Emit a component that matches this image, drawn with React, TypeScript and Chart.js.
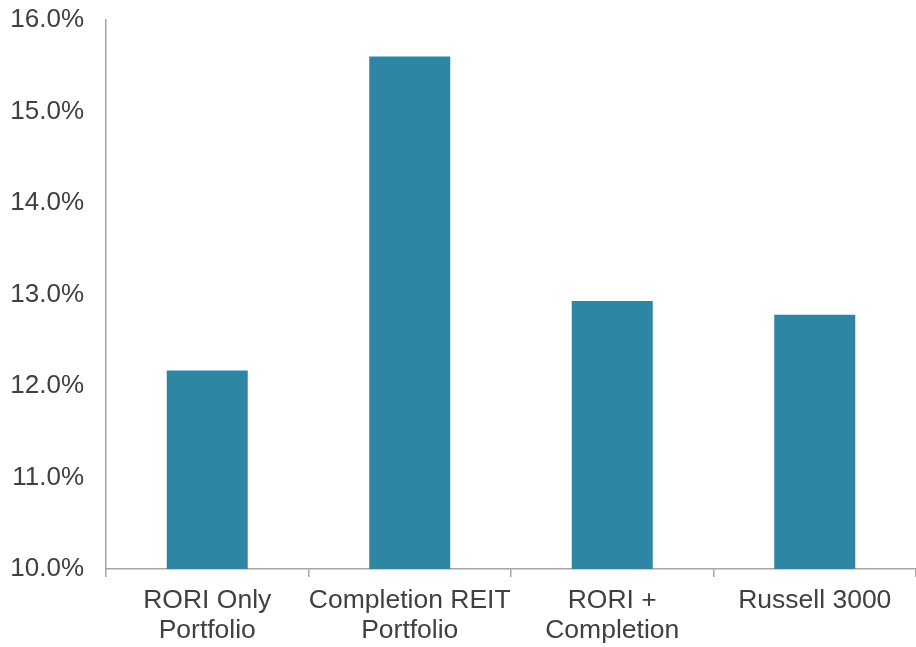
import React, { useEffect, useRef } from "react";
import { Chart, registerables } from "chart.js";

Chart.register(...registerables);

const categories: (string | string[])[] = [
  ["RORI Only", "Portfolio"],
  ["Completion REIT", "Portfolio"],
  ["RORI +", "Completion"],
  "Russell 3000",
];
const values: number[] = [12.17, 15.6, 12.93, 12.78];
const yMin = 10;
const yMax = 16;
const yStep = 1;

const TEXT = "#404040";
const AXIS = "#A6A6A6";
const BAR = "#2E86A3";
const FONT = "'Liberation Sans', Arial, sans-serif";

export default function App() {
  const ref = useRef<HTMLCanvasElement | null>(null);
  useEffect(() => {
    document.body.style.margin = "0";
    const ctx = ref.current!.getContext("2d")!;
    const chart = new Chart(ctx, {
      type: "bar",
      data: {
        labels: categories,
        datasets: [
          {
            data: values,
            backgroundColor: BAR,
            borderWidth: 0,
            barPercentage: 0.4,
            categoryPercentage: 1,
          },
        ],
      },
      options: {
        animation: false,
        responsive: false,
        maintainAspectRatio: false,
        layout: { padding: { top: 20, right: 0, left: 0, bottom: 0 } },
        plugins: { legend: { display: false }, tooltip: { enabled: false } },
        scales: {
          x: {
            grid: {
              display: true,
              drawOnChartArea: false,
              drawTicks: true,
              tickLength: 8,
              color: AXIS,
              lineWidth: 1.5,
              offset: true,
            },
            border: { display: true, color: AXIS, width: 1.5 },
            ticks: {
              color: TEXT,
              font: { family: FONT, size: 26.5, lineHeight: 1.13 },
              padding: 9,
              maxRotation: 0,
              autoSkip: false,
            },
            afterFit: (axis: any) => {
              axis.height = 78;
              axis.paddingLeft = 0;
              axis.paddingRight = 0;
            },
          },
          y: {
            min: yMin,
            max: yMax,
            grid: { display: false, drawTicks: false },
            border: { display: true, color: AXIS, width: 1.5 },
            ticks: {
              stepSize: yStep,
              color: TEXT,
              font: { family: FONT, size: 26 },
              padding: 22,
              callback: (v: any) => Number(v).toFixed(1) + "%",
            },
            afterFit: (axis: any) => {
              axis.width = 106;
              axis.paddingTop = 0;
              axis.paddingBottom = 0;
            },
          },
        },
      },
    });
    return () => chart.destroy();
  }, []);
  return <canvas ref={ref} width={916} height={647} style={{ display: "block" }} />;
}
